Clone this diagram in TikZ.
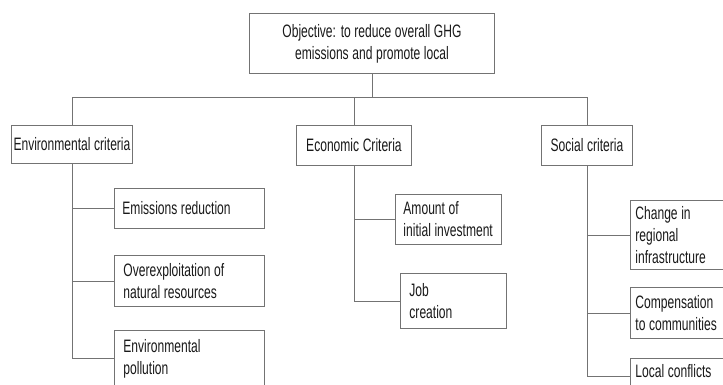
\documentclass[tikz,border=0pt]{standalone}
\usepackage{fontspec}
\setmainfont{Liberation Sans}[FakeStretch=0.67]
\hyphenpenalty=10000
\exhyphenpenalty=10000
\newcommand\diagfont{\fontsize{18}{22}\selectfont}
\newcommand\tightspace{\spaceskip=3.6pt plus 1pt\relax}
\begin{document}
\begin{tikzpicture}[x=1pt,y=-1pt,
  every node/.style={font=\diagfont, text=black!90},
  bx/.style={draw=black!55, line width=0.9pt, rectangle, anchor=north west, inner ysep=0pt, inner xsep=0pt, align=left},
  padl/.style={execute at begin node={\tightspace\leftskip=#1\relax}},
  hd/.style={draw=black!55, line width=0.9pt, rectangle, anchor=north west, inner sep=0pt, align=center, execute at begin node={\tightspace}},
  ln/.style={draw=black!55, line width=0.9pt}]
\useasboundingbox (0,0) rectangle (723,384);
\clip (0,0) rectangle (723,384);
% header nodes
\node[hd, minimum width=245pt, minimum height=60pt] (obj) at (249,13) {Objective: to reduce overall GHG\\emissions and promote local};
\node[hd, minimum width=121pt, minimum height=38pt] (env) at (11,125) {Environmental criteria};
\node[hd, minimum width=115pt, minimum height=40pt] (eco) at (296,125) {Economic Criteria};
\node[hd, minimum width=91pt, minimum height=40pt] (soc) at (541,125) {Social criteria};
% environmental children
\node[bx, padl=8pt, text width=150pt, minimum height=40pt] (er) at (114,188) {Emissions reduction};
\node[bx, padl=9pt, text width=150pt, minimum height=51pt] (ov) at (114,255) {Overexploitation of\\natural resources};
\node[bx, padl=9pt, text width=150pt, minimum height=56pt] (po) at (114,330) {Environmental\\pollution};
% economic children
\node[bx, padl=8pt, text width=106pt, minimum height=50pt] (am) at (395,194) {Amount of\\initial investment};
\node[bx, padl=9pt, text width=106pt, minimum height=55pt] (jc) at (400,273) {Job\\creation};
% social children
\node[bx, padl=5pt, text width=110pt, minimum height=69pt] (ch) at (630,200) {Change in\\regional\\infrastructure};
\node[bx, padl=5pt, text width=110pt, minimum height=51pt] (co) at (630,287) {Compensation\\to communities};
\node[bx, padl=5pt, text width=110pt, minimum height=36pt, text depth=11pt] (lc) at (630,358) {Local conflicts};
% bus
\coordinate (bus) at (373,97);
\draw[ln] (obj.south) -- (obj.south |- bus);
\draw[ln] (env.north) -- (env.north |- bus) -- (soc.north |- bus) -- (soc.north);
\draw[ln] (eco.north) -- (eco.north |- bus);
% stems
\draw[ln] (env.south) |- (po.west);
\draw[ln] (env.south |- er.west) -- (er.west);
\draw[ln] (env.south |- ov.west) -- (ov.west);
\draw[ln] (eco.south) |- (jc.west);
\draw[ln] (eco.south |- am.west) -- (am.west);
\draw[ln] (soc.south) |- (lc.west);
\draw[ln] (soc.south |- ch.west) -- (ch.west);
\draw[ln] (soc.south |- co.west) -- (co.west);
\end{tikzpicture}
\end{document}
